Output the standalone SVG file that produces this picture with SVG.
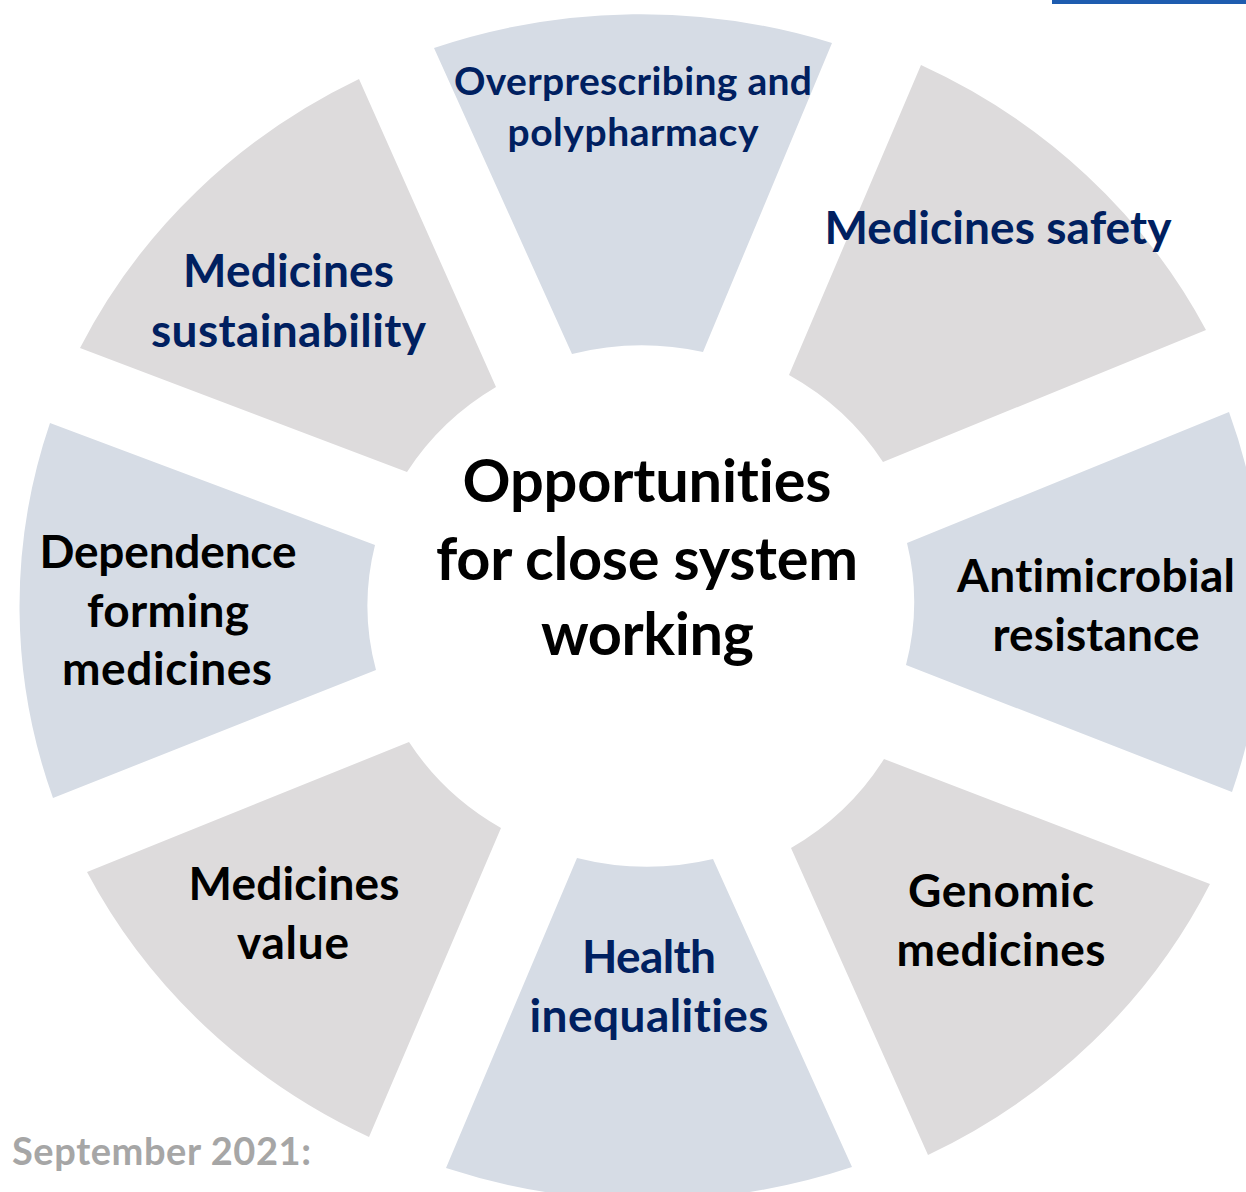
<svg xmlns="http://www.w3.org/2000/svg" width="1246" height="1192" viewBox="0 0 1246 1192">
<style>
.blue{fill:#D6DCE5}
.gray{fill:#DDDBDC}
text{font-family:Lato,"Open Sans","Liberation Sans",sans-serif;font-weight:bold;text-anchor:middle;font-variant-ligatures:none;font-feature-settings:"liga" 0,"clig" 0}
.lbl{font-size:46px}
.navy{fill:#002060}
.blk{fill:#000000}
.small{font-size:39px}
.title{font-size:59.5px;fill:#000000}
.note{font-size:38px;fill:#A6A6A6;text-anchor:start}
</style>
<rect x="0" y="0" width="1246" height="1192" fill="#FFFFFF"/>
<rect x="1052" y="0" width="194" height="4" fill="#1E5CAF"/>
<g id="connectors"/>
<g id="seg-overprescribing">
<path class="blue" d="M 434 48 A 621 592 0 0 1 832 43 L 703 352 A 273 260 0 0 0 572 354 Z"/>
<text class="small navy" x="633" y="95" textLength="358">Overprescribing and</text>
<text class="small navy" x="633" y="146" textLength="251">polypharmacy</text>
</g>
<g id="seg-safety">
<path class="gray" d="M 921 65 A 621 592 0 0 1 1206 330 L 883 462 A 273 260 0 0 0 789 375 Z"/>
<text class="lbl navy" x="998" y="244" textLength="347">Medicines safety</text>
</g>
<g id="seg-amr">
<path class="blue" d="M 1229 412 A 621 592 0 0 1 1232 792 L 906 665 A 273 260 0 0 0 907 543 Z"/>
<text class="lbl blk" x="1096" y="592" textLength="278">Antimicrobial</text>
<text class="lbl blk" x="1096" y="651" textLength="207">resistance</text>
</g>
<g id="seg-genomic">
<path class="gray" d="M 1210 884 A 621 592 0 0 1 928 1155 L 791 848 A 273 260 0 0 0 884 759 Z"/>
<text class="lbl blk" x="1001" y="907" textLength="186">Genomic</text>
<text class="lbl blk" x="1001" y="966" textLength="209">medicines</text>
</g>
<g id="seg-health">
<path class="blue" d="M 852 1167 A 621 592 0 0 1 446 1168 L 577 858 A 273 260 0 0 0 713 859 Z"/>
<text class="lbl navy" x="649" y="973" textLength="134">Health</text>
<text class="lbl navy" x="649" y="1032" textLength="239">inequalities</text>
</g>
<g id="seg-value">
<path class="gray" d="M 369 1137 A 621 592 0 0 1 87 872 L 409 742 A 273 260 0 0 0 501 828 Z"/>
<text class="lbl blk" x="294" y="900" textLength="211">Medicines</text>
<text class="lbl blk" x="293" y="959" textLength="112">value</text>
</g>
<g id="seg-dependence">
<path class="blue" d="M 53 798 A 621 592 0 0 1 50 423 L 375 545 A 273 260 0 0 0 376 670 Z"/>
<text class="lbl blk" x="168" y="568" textLength="257">Dependence</text>
<text class="lbl blk" x="168" y="627" textLength="162">forming</text>
<text class="lbl blk" x="167" y="685" textLength="210">medicines</text>
</g>
<g id="seg-sustainability">
<path class="gray" d="M 80 348 A 621 592 0 0 1 359 79 L 496 387 A 273 260 0 0 0 407 472 Z"/>
<text class="lbl navy" x="288.5" y="287" textLength="211">Medicines</text>
<text class="lbl navy" x="288.5" y="347" textLength="275">sustainability</text>
</g>
<g id="center">
<text class="title" x="647" y="502" textLength="369">Opportunities</text>
<text class="title" x="647" y="580" textLength="422">for close system</text>
<text class="title" x="647.5" y="655" textLength="213">working</text>
</g>
<g id="note">
<text class="note" x="12" y="1165" textLength="299">September 2021:</text>
</g>
</svg>
